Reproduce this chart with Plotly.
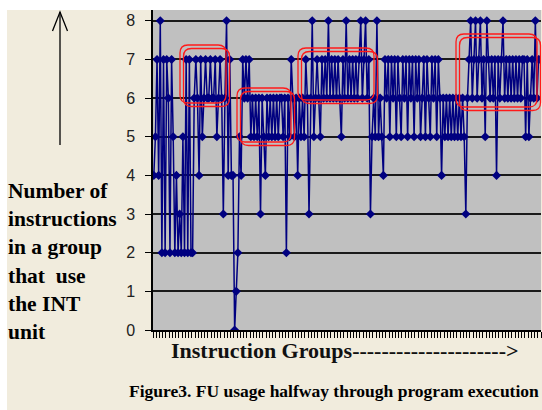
import plotly.graph_objects as go

# Number of instructions per group that use the INT unit
int_usage = [
    4, 5, 7, 4, 8, 2, 7, 2, 7, 6, 2, 7, 5, 2, 4, 2, 3, 2, 5, 2,
    7, 2, 7, 2, 2, 6, 7, 6, 4, 7, 5, 6, 7, 6, 6, 7, 6, 6, 7, 5,
    6, 7, 6, 3, 6, 8, 4, 7, 4, 4, 0, 1, 2, 5, 4, 7, 6, 7, 6, 7,
    5, 6, 5, 6, 5, 6, 3, 6, 5, 4, 6, 5, 6, 5, 6, 5, 6, 5, 6, 6,
    5, 6, 2, 6, 5, 7, 6, 5, 6, 4, 6, 5, 6, 5, 7, 6, 3, 6, 8, 5,
    6, 7, 6, 5, 7, 6, 7, 6, 8, 6, 7, 6, 7, 6, 7, 6, 5, 7, 6, 8,
    6, 7, 6, 7, 6, 7, 6, 7, 8, 6, 7, 8, 6, 7, 3, 5, 6, 5, 8, 5,
    6, 5, 4, 7, 6, 7, 5, 7, 6, 7, 5, 7, 6, 5, 7, 6, 7, 5, 7, 6,
    7, 5, 7, 6, 7, 5, 6, 7, 5, 7, 6, 5, 7, 6, 7, 5, 7, 6, 4, 6,
    5, 6, 5, 6, 5, 6, 5, 6, 5, 6, 5, 6, 5, 3, 6, 7, 8, 6, 7, 8,
    6, 7, 8, 6, 7, 5, 8, 7, 6, 7, 6, 7, 4, 7, 6, 7, 8, 6, 7, 6,
    7, 6, 7, 6, 7, 6, 7, 6, 7, 7, 5, 7, 5, 6, 7, 6, 8, 6, 7, 7,
]
groups = list(range(len(int_usage)))
y_ticks = [0, 1, 2, 3, 4, 5, 6, 7, 8]

y_label_lines = ["Number of", "instructions", "in a group", "that\u00a0 use", "the INT", "unit"]
x_title = "Instruction Groups--------------------->"
caption = "Figure3. FU usage halfway through program execution"

W, H = 542, 410
L, R, T, B = 153, 1, 10, 80
PW, PH = W - L - R, H - T - B

BEIGE = "rgb(241,236,221)"
NAVY = "#000080"
RED = "#ff1a1a"
SERIF = "Liberation Serif, Times New Roman, serif"


def px(x):
    return (x - L) / PW


def py(y):
    return (H - B - y) / PH


def rounded_rect(x0, y0, x1, y1, r=8):
    pts = [
        ("M", x0 + r, y0), ("L", x1 - r, y0), ("Q", x1, y0, x1, y0 + r),
        ("L", x1, y1 - r), ("Q", x1, y1, x1 - r, y1), ("L", x0 + r, y1),
        ("Q", x0, y1, x0, y1 - r), ("L", x0, y0 + r), ("Q", x0, y0, x0 + r, y0),
    ]
    out = []
    for p in pts:
        cmd, coords = p[0], p[1:]
        conv = []
        for i in range(0, len(coords), 2):
            conv.append(f"{px(coords[i]):.5f},{py(coords[i + 1]):.5f}")
        out.append(cmd + " ".join(conv))
    return " ".join(out) + " Z"


fig = go.Figure()
fig.add_trace(go.Scatter(
    x=groups, y=int_usage, mode="lines+markers",
    line=dict(color=NAVY, width=1.5),
    marker=dict(symbol="diamond", size=7, color=NAVY),
    hoverinfo="skip",
))

shapes = []
# white frame strips along the top and left edges
shapes.append(dict(type="rect", xref="paper", yref="paper",
                   x0=px(0), x1=px(W + 2), y0=py(T), y1=py(-2),
                   fillcolor="white", line=dict(width=0), layer="below"))
shapes.append(dict(type="rect", xref="paper", yref="paper",
                   x0=px(-2), x1=px(7), y0=py(H + 2), y1=py(-2),
                   fillcolor="white", line=dict(width=0), layer="below"))

# highlighted regions, each drawn as a double rounded outline
boxes = [
    (180, 45, 226, 103),
    (237, 88, 291, 142),
    (298, 48, 374, 100),
    (456, 34, 537, 107),
]
for (x0, y0, x1, y1) in boxes:
    for d in (0, 3.5):
        shapes.append(dict(type="path", xref="paper", yref="paper",
                           path=rounded_rect(x0 + d, y0 + d, x1 + d, y1 + d),
                           line=dict(color=RED, width=1.3), layer="above"))

# upward arrow beside the axis description
shapes.append(dict(type="line", xref="paper", yref="paper",
                   x0=px(60), x1=px(60), y0=py(145), y1=py(12),
                   line=dict(color="black", width=1.3)))
shapes.append(dict(type="path", xref="paper", yref="paper",
                   path=f"M{px(52.5)},{py(31)} L{px(60)},{py(12)} L{px(67.5)},{py(31)}",
                   line=dict(color="black", width=1.3)))

annotations = []
for i, txt in enumerate(y_label_lines):
    annotations.append(dict(
        text=txt, xref="paper", yref="paper", x=px(6), y=py(191 + i * 28.2),
        xanchor="left", yanchor="middle", showarrow=False,
        font=dict(family=SERIF, size=21.5, color="black", weight="bold"),
    ))
annotations.append(dict(
    text=x_title, xref="paper", yref="paper", x=px(169), y=py(350),
    xanchor="left", yanchor="middle", showarrow=False,
    font=dict(family=SERIF, size=22, color="#111", weight="bold"),
))
annotations.append(dict(
    text=caption, xref="paper", yref="paper", x=px(541), y=py(391),
    xanchor="right", yanchor="middle", showarrow=False,
    font=dict(family=SERIF, size=17.5, color="black", weight="bold"),
))

fig.update_layout(
    width=W, height=H,
    margin=dict(l=L, r=R, t=T, b=B, pad=0),
    paper_bgcolor=BEIGE, plot_bgcolor="rgb(192,192,192)",
    showlegend=False,
    shapes=shapes, annotations=annotations,
    xaxis=dict(
        range=[-0.5, len(groups) - 0.5], tickmode="linear", tick0=-0.5, dtick=2,
        ticks="outside", ticklen=6, tickwidth=1.4, tickcolor="black",
        showticklabels=False, showgrid=False, zeroline=False,
        showline=True, linecolor="black", linewidth=1.5, fixedrange=True,
    ),
    yaxis=dict(
        range=[0, 8.28], tickvals=y_ticks,
        ticks="outside", ticklen=6, tickwidth=1.2, tickcolor="black",
        ticklabelstandoff=7,
        tickfont=dict(family="Liberation Sans, Arial, sans-serif", size=16, color="#222"),
        showgrid=True, gridcolor="#1a1a1a", gridwidth=1.5, zeroline=False,
        showline=True, linecolor="black", linewidth=1.5, fixedrange=True,
    ),
)

fig.write_html("out.html")
